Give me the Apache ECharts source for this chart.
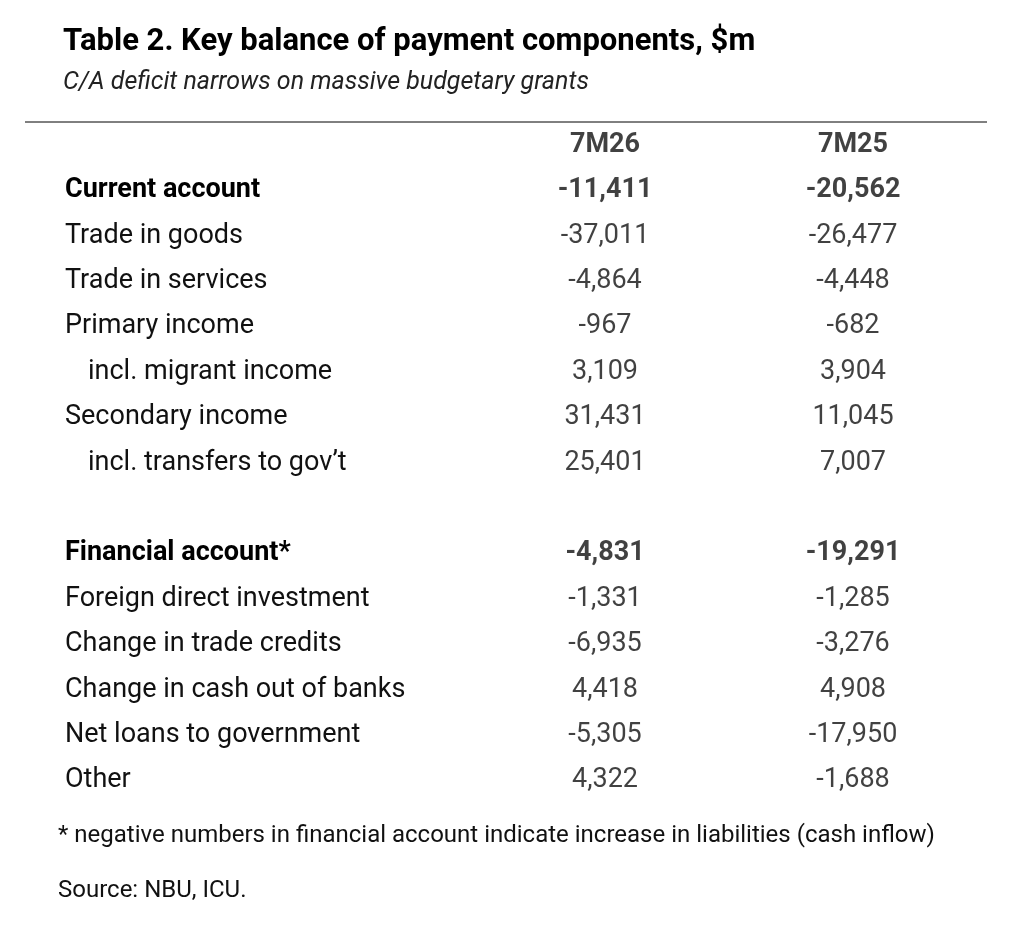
<!DOCTYPE html>
<html><head><meta charset="utf-8">
<script src="https://cdn.jsdelivr.net/npm/echarts@6/dist/echarts.min.js"></script>
<style>html,body{margin:0;background:#fff}#c{width:1012px;height:938px}</style>
</head><body><div id="c"></div>
<script>
const columns = ['7M26', '7M25'];
const rowLabels = ['', 'Current account', 'Trade in goods', 'Trade in services', 'Primary income', 'incl. migrant income', 'Secondary income', 'incl. transfers to gov\u2019t', '', 'Financial account*', 'Foreign direct investment', 'Change in trade credits', 'Change in cash out of banks', 'Net loans to government', 'Other'];
const boldRows = [1, 9];
const indentRows = [5, 7];
const values7M26 = [null, -11411, -37011, -4864, -967, 3109, 31431, 25401, null, -4831, -1331, -6935, 4418, -5305, 4322];
const values7M25 = [null, -20562, -26477, -4448, -682, 3904, 11045, 7007, null, -19291, -1285, -3276, 4908, -17950, -1688];
const footnote = '* negative numbers in financial account indicate increase in liabilities (cash inflow)';
const source = 'Source: NBU, ICU.';

const F = '"Liberation Sans Narrow", "Roboto", sans-serif';
const rowKeys = rowLabels.map((_, i) => 'r' + i);
function fmt(v){ return v == null ? '' : v.toLocaleString('en-US'); }
function colSeries(col, vals){
  const data = [{value: [col, 'r0'], label: {formatter: col, fontWeight: 'bold'}}];
  vals.forEach((v, i) => { if (v != null) data.push({value: [col, rowKeys[i]], label: {formatter: fmt(v), fontWeight: boldRows.includes(i) ? 'bold' : 'normal'}}); });
  return {type: 'scatter', symbolSize: 0, silent: true, data,
    label: {show: true, position: 'inside', color: '#111', fontFamily: F, fontSize: 27}};
}
const chart = echarts.init(document.getElementById('c'));
chart.setOption({
  animation: false,
  title: {text: 'Table 2. Key balance of payment components, $m', subtext: 'C/A deficit narrows on massive budgetary grants',
    left: 58, top: 22, itemGap: 12,
    textStyle: {fontFamily: F, fontSize: 31, fontWeight: 'bold', color: '#000'},
    subtextStyle: {fontFamily: F, fontSize: 25, fontStyle: 'italic', color: '#222'}},
  grid: {left: 481, right: 35, top: 122.3, height: 681},
  xAxis: {type: 'category', data: columns, show: false},
  yAxis: {type: 'category', data: rowKeys, inverse: true,
    axisLine: {show: false}, axisTick: {show: false}, splitLine: {show: false},
    axisLabel: {align: 'left', margin: 416, fontFamily: F, fontSize: 27, color: '#111',
      formatter: (k, i) => { const idx = rowKeys.indexOf(k); const t = rowLabels[idx];
        if (!t) return ''; if (boldRows.includes(idx)) return '{b|' + t + '}';
        if (indentRows.includes(idx)) return '{i|' + t + '}'; return t; },
      rich: {b: {fontWeight: 'bold', fontFamily: F, fontSize: 27, color: '#000'},
             i: {padding: [0, 0, 0, 23], fontFamily: F, fontSize: 27, color: '#111'}}}},
  series: [colSeries('7M26', values7M26), colSeries('7M25', values7M25)],
  graphic: [
    {type: 'line', shape: {x1: 25, y1: 122, x2: 987, y2: 122}, style: {stroke: '#000', lineWidth: 1}},
    {type: 'text', left: 58, top: 824, style: {text: footnote, font: '24px ' + F, fill: '#111'}},
    {type: 'text', left: 58, top: 879, style: {text: source, font: '24px ' + F, fill: '#111'}}
  ]
});
</script></body></html>
